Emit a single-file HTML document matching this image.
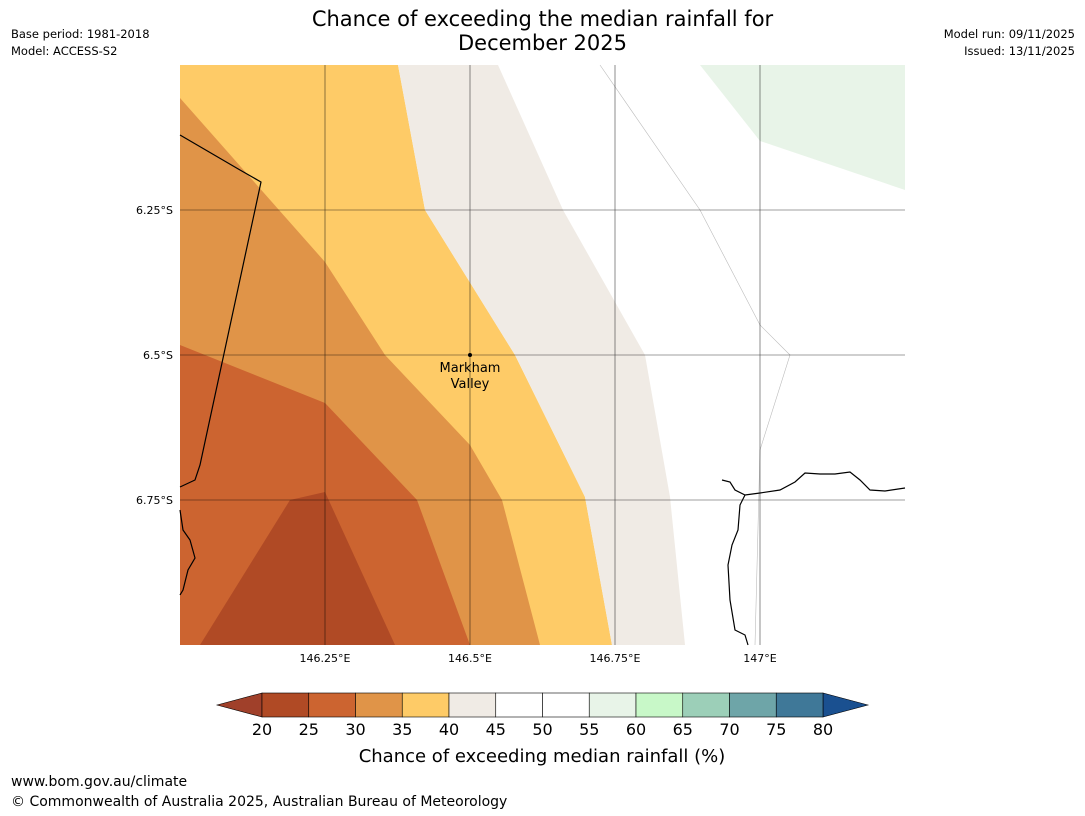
<!DOCTYPE html>
<html><head><meta charset="utf-8"><style>
body{margin:0;background:#fff;width:1085px;height:816px;overflow:hidden;font-family:"DejaVu Sans","Liberation Sans",sans-serif;position:relative}
.t{position:absolute;color:#000}
svg text{font-family:"DejaVu Sans","Liberation Sans",sans-serif}
</style></head><body>
<div class="t" style="left:0;width:1085px;top:7px;text-align:center;font-size:21px;line-height:24px">Chance of exceeding the median rainfall for<br>December 2025</div>
<div class="t" style="left:11px;top:26px;font-size:11.5px;line-height:17px">Base period: 1981-2018<br>Model: ACCESS-S2</div>
<div class="t" style="right:10px;top:26px;font-size:11.5px;line-height:17px;text-align:right">Model run: 09/11/2025<br>Issued: 13/11/2025</div>
<svg width="1085" height="816" style="position:absolute;left:0;top:0">
<g id="map">
<rect x="180" y="65" width="725" height="580" fill="#fff"/>
<polygon fill="#fecb67" points="180,65 398,65 425,210 515,355 585,497 612,645 180,645"/>
<polygon fill="#f0ebe5" points="398,65 498,65 563,210 645,355 670,497 685,645 612,645 585,497 515,355 425,210"/>
<polygon fill="#e09448" points="180,98 325,262 385,355 470,445 502,500 540,645 180,645"/>
<polygon fill="#cc6430" points="180,345 325,403 417,500 470,645 180,645"/>
<polygon fill="#b04a25" points="200,645 290,500 325,492 395,645"/>
<polygon fill="#e8f4e8" points="700,65 760,141 905,190 905,65"/>
<polyline fill="none" stroke="#bbb" stroke-width="0.6" points="600,65 700,210 760,325 790,355 760,450 755,645"/>
<g stroke="#000" stroke-width="0.6" opacity="0.75">
<line x1="325" y1="65" x2="325" y2="645"/><line x1="470" y1="65" x2="470" y2="645"/><line x1="615" y1="65" x2="615" y2="645"/><line x1="760" y1="65" x2="760" y2="645"/>
<line x1="180" y1="210" x2="905" y2="210"/><line x1="180" y1="355" x2="905" y2="355"/><line x1="180" y1="500" x2="905" y2="500"/>
</g>
<g fill="none" stroke="#000" stroke-width="1.2">
<polyline points="180,135 240,170 261,182 200,465 195,480 180,487"/>
<polyline points="180,510 183,530 190,540 195,558 188,570 183,590 180,595"/>
<polyline points="722,480 730,482 735,490 745,495 760,493 780,490 795,482 805,473 820,474 835,474 850,472 860,480 870,490 885,491 905,488"/>
<polyline points="745,495 740,505 738,530 732,545 728,565 730,600 735,630 745,635 748,645"/>
</g>
<circle cx="470" cy="355" r="2" fill="#000"/>
<text x="470" y="372" font-size="13" text-anchor="middle">Markham</text>
<text x="470" y="388" font-size="13" text-anchor="middle">Valley</text>
</g>
<g font-size="11">
<text x="173" y="214" text-anchor="end">6.25°S</text>
<text x="173" y="359" text-anchor="end">6.5°S</text>
<text x="173" y="504" text-anchor="end">6.75°S</text>
<text x="325" y="662" text-anchor="middle">146.25°E</text>
<text x="470" y="662" text-anchor="middle">146.5°E</text>
<text x="615" y="662" text-anchor="middle">146.75°E</text>
<text x="760" y="662" text-anchor="middle">147°E</text>
</g>
<g id="cbar"></g>
<text x="542" y="762" font-size="18" text-anchor="middle">Chance of exceeding median rainfall (%)</text>
</svg>
<div class="t" style="left:11px;top:774px;font-size:14px">www.bom.gov.au/climate</div>
<div class="t" style="left:11px;top:794px;font-size:14px">© Commonwealth of Australia 2025, Australian Bureau of Meteorology</div>
<script>
const ticks=[20,25,30,35,40,45,50,55,60,65,70,75,80];
const colors=["#b04a25","#cc6430","#e09448","#fecb67","#f0ebe5","#ffffff","#ffffff","#e8f4e8","#c8f8c8","#9ccfb8","#6ea5a8","#3f7898"];
const under="#a0402a", over="#1a5090";
const g=document.getElementById('cbar'),NS="http://www.w3.org/2000/svg";
const x0=262,x1=823,y0=693,h=24;
const sx=v=>x0+(v-ticks[0])/(ticks[ticks.length-1]-ticks[0])*(x1-x0);
function mk(t,a){const e=document.createElementNS(NS,t);for(const k in a)e.setAttribute(k,a[k]);g.appendChild(e);return e;}
const tl=mk('polygon',{points:`217,${y0+h/2} ${x0},${y0} ${x0},${y0+h}`,fill:under,stroke:'#000','stroke-width':0.6});


const tr=mk('polygon',{points:`868,${y0+h/2} ${x1},${y0} ${x1},${y0+h}`,fill:over,stroke:'#000','stroke-width':0.6});


colors.forEach((c,i)=>{
const r=mk('rect',{x:sx(ticks[i]),y:y0,width:sx(ticks[i+1])-sx(ticks[i]),height:h,fill:c,stroke:'#000','stroke-width':0.6});


});
ticks.forEach(v=>{
const t=mk('text',{x:sx(v),y:735,'font-size':16,'text-anchor':'middle'});t.textContent=v;


});
</script>
</body></html>
